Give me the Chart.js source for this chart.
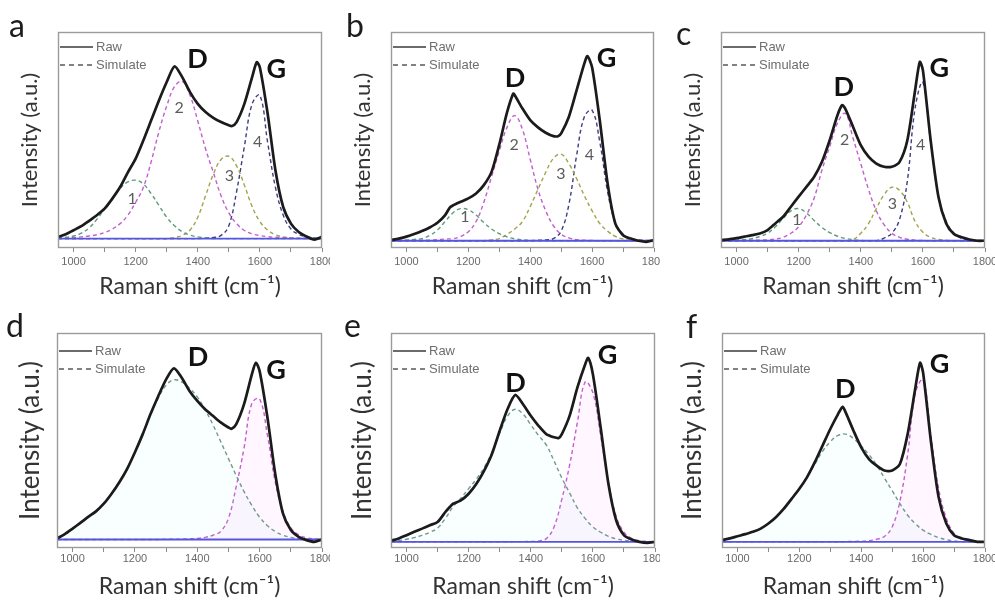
<!DOCTYPE html>
<html>
<head>
<meta charset="utf-8">
<script src="https://cdn.jsdelivr.net/npm/chart.js@4.4.1/dist/chart.umd.min.js"></script>
<style>
  html, body { margin: 0; padding: 0; background: #fff; }
  #fig { position: relative; width: 995px; height: 603px; overflow: hidden; }
  #fig canvas { position: absolute; }
</style>
</head>
<body>
<div id="fig"></div>
<script>
// shared Raman shift grid (cm-1) for the fitted bands
const fitShift = [950,975,1000,1025,1050,1075,1100,1125,1150,1175,1200,1225,1250,1275,1300,1325,1350,1375,1400,1425,1450,1475,1500,1525,1550,1575,1600,1625,1650,1675,1700,1725,1750,1775,1800];
const xTicks = [1000,1100,1200,1300,1400,1500,1600,1700,1800];
const bandNames = ['1', '2', '3', '4'];
const peakNames = ['D', 'G'];

// a
const rawShiftA = [950,975,1000,1025,1050,1075,1100,1125,1150,1175,1200,1225,1250,1275,1300,1325,1350,1375,1400,1425,1450,1475,1500,1510,1525,1550,1575,1590,1600,1625,1650,1675,1700,1725,1750,1775,1800];
const rawA = [0.8,2,3.9,5.8,8.3,10.9,14,18.7,24.1,31,37.4,46,55.3,64.6,73.2,80.5,75.5,68.5,63,59.2,56.5,54.5,53,52.6,54.5,63,75.5,82.5,80,58.4,32,14.8,7,3.1,1,-0.5,0.8];
const fitA1 = [0.3,0.6,1.2,2.5,5,9,14,19,23.5,26.5,27.3,25.5,21,15.5,10,6,3.2,1.6,0.8,0.3,0,0,0,0,0,0,0,0,0,0,0,0,0,0,0];
const fitA2 = [0.2,0.3,0.5,0.8,1.2,1.8,2.8,4.5,7,11,17,24,36,50,62,71,73.5,67,55,42,31,20,12,7,3.8,2.2,1.4,0.9,0.6,0.4,0.3,0.2,0.1,0,0];
const fitA3 = [0,0,0,0,0,0,0,0,0,0,0,0,0,0,0,0.5,1.5,4,10,20,30,37,38.5,34,25,15,8,4,1.8,0.8,0.3,0.1,0,0,0];
const fitA4 = [0,0,0,0,0,0,0,0,0,0,0,0,0,0,0,0,0,0,0,0.2,0.5,1.5,6,22,43,63,67,45,24,11,4.5,2,0.8,0.3,0.1];

// b
const rawShiftB = [950,975,1000,1025,1050,1075,1100,1125,1140,1150,1175,1200,1225,1250,1275,1300,1325,1345,1350,1375,1400,1425,1450,1475,1490,1500,1525,1550,1575,1585,1600,1625,1650,1675,1700,1725,1750,1775,1800];
const rawB = [0.3,1,1.9,3.1,4.5,6.2,8.4,12,15.5,16.5,18.2,19.8,22.1,26,32.2,45,60,68.8,68,61.8,56.4,53,50.5,48.9,48.9,50.2,58,70.4,82.9,86.3,81,56,26.8,8,2.6,1,0,-0.5,0.3];
const fitB1 = [0.1,0.2,0.3,0.6,1,2.5,5,9,13,15,14.5,12,8.5,5.5,3.3,1.8,0.9,0.4,0.2,0,0,0,0,0,0,0,0,0,0,0,0,0,0,0,0];
const fitB2 = [0,0,0.1,0.1,0.2,0.3,0.5,0.8,1,2,4.2,9,18,30,42,53,58.5,52,38,24,14,7,3,1.3,0.5,0.2,0.1,0,0,0,0,0,0,0,0];
const fitB3 = [0,0,0,0,0,0,0,0,0,0,0,0,0,0.4,1,3,5.5,9,16,24,32,38.5,40.5,36,29,21,14,8,4.5,2,0.8,0.3,0.1,0,0];
const fitB4 = [0,0,0,0,0,0,0,0,0,0,0,0,0,0,0,0,0,0,0,0.2,0.4,1,4.5,17,40,58,61,46,23,8.5,3,1,0.4,0.1,0];

// c
const rawShiftC = [950,975,1000,1025,1050,1075,1100,1125,1150,1175,1200,1225,1250,1275,1300,1325,1340,1350,1375,1400,1425,1450,1475,1500,1525,1550,1575,1590,1600,1625,1650,1675,1700,1725,1750,1775,1800];
const rawC = [0.3,0.6,1.2,1.9,2.6,3.4,5,8.1,11.2,15.9,20.6,25.2,29.9,36.9,47,58.7,63.4,61.8,53.3,44.7,39.3,36.1,34.6,34.6,36.9,47,70.4,83.6,79.8,47,20.6,8.1,3.1,1.6,0.6,0,0];
const fitC1 = [0.1,0.2,0.3,0.5,1,2,3.5,6.5,10.5,14,15,13,9.5,6.2,3.8,2.1,1.1,0.5,0.2,0,0,0,0,0,0,0,0,0,0,0,0,0,0,0,0];
const fitC2 = [0,0.1,0.1,0.2,0.2,0.3,0.4,0.8,1.6,3.5,6.5,12,20,33,44,55,59.5,48,36,24,14,7.5,3.5,1.6,0.7,0.3,0.1,0,0,0,0,0,0,0,0];
const fitC3 = [0,0,0,0,0,0,0,0,0,0,0,0,0,0,0,0,0,0.5,3.5,8,15,21.5,25,23.5,18,9,4,1.6,0.6,0.2,0,0,0,0,0];
const fitC4 = [0,0,0,0,0,0,0,0,0,0,0,0,0,0,0,0,0,0,0,0,0,1.2,3.5,10,28,62,74,46,21,9,3.5,1.2,0.4,0.1,0];

// d
const rawShiftD = [950,975,1000,1025,1050,1075,1100,1125,1150,1175,1200,1225,1250,1275,1300,1325,1350,1375,1400,1425,1450,1475,1500,1510,1525,1550,1575,1588,1600,1625,1650,1675,1700,1725,1750,1775,1800];
const rawD = [0.5,2.5,5.1,7.8,10.6,13.2,16.8,21.5,26.9,33.2,41,49.5,58.9,67.4,75.2,80.4,76,69.8,65.1,61.2,58.1,55,52.6,52,54.2,63.6,77.6,83,79.1,57.3,30.8,12.1,4.4,1.2,-0.3,-1.1,0];
const fitD1 = [0.5,2.5,5,7.8,10.5,13.2,16.8,21.5,26.9,33.2,41,49.5,58.5,66.5,72.5,75,74,71,67,61,54,46,38,30,22.5,16,10.5,6.5,3.8,2,1,0.4,0.1,0,0];
const fitD2 = [0,0,0,0,0,0,0,0,0,0,0,0,0,0,0.1,0.1,0.2,0.3,0.5,1,2,3.8,10,25,43,64,66,49,27,13,5.5,2.2,0.8,0.3,0.1];

// e
const rawShiftE = [950,975,1000,1025,1050,1075,1100,1125,1140,1150,1175,1200,1225,1250,1275,1300,1325,1350,1375,1400,1425,1450,1475,1490,1500,1525,1550,1575,1585,1600,1625,1650,1675,1700,1725,1750,1775,1800];
const rawE = [0.5,1.6,3.1,4.7,6.2,7.8,9.3,14,16.5,17.9,19.5,22.6,27.3,33.5,41.3,52.2,62.3,69,64.6,59.2,54.5,50.6,49.1,48.8,50.6,59.2,72.4,83.3,86.4,78.7,53.7,27.3,10.1,3.1,1.1,0,-0.5,0];
const fitE1 = [0.3,0.6,1.2,2,3,4.5,6.5,11,16.5,20.5,25,29.5,35,42,51,59,62.3,60,55,50,45.5,38,30,23,16,11,7,4.5,2.6,1.4,0.7,0.3,0.1,0,0];
const fitE2 = [0,0,0,0,0,0,0,0,0,0,0,0,0,0,0,0,0.1,0.1,0.2,0.4,1.5,7,20,36,56,75,70,50,28,12,4.5,1.6,0.5,0.2,0];

// f
const rawShiftF = [950,975,1000,1025,1050,1075,1100,1125,1150,1175,1200,1225,1250,1275,1300,1325,1340,1350,1375,1400,1425,1450,1475,1500,1525,1550,1575,1590,1600,1625,1650,1675,1700,1725,1750,1775,1800];
const rawF = [0.8,1.6,2.6,3.6,4.7,6.2,8.6,11.7,15.6,20.2,24.9,30.4,37.4,45.2,53,60,63.4,60.7,52.2,44.4,38.9,35.8,33.5,33.5,36.6,50.6,72.4,84.1,79.4,47.5,21,8.6,3.1,1.6,0.8,0,0];
const fitF1 = [0.8,1.6,2.6,3.6,4.7,6.2,8.6,11.7,15.6,20.2,25,30.5,36.5,42.5,47,50,50.6,48.5,45,41,36,30,24,18,12.5,8.5,5.5,3.5,2,1,0.4,0.1,0,0,0];
const fitF2 = [0,0,0,0,0,0,0,0,0,0,0,0,0,0,0,0,0.1,0.2,0.3,0.5,1.2,2.5,7,19,41,70,76,50,25,11,4,1.5,0.5,0.2,0];

const fourColors = ['#5e9c78', '#c25fce', '#a3a34e', '#3d3d85'];
const twoColors = ['#6f9a92', '#c95ad2'];
const twoFills = ['rgba(170,235,235,0.07)', 'rgba(255,170,255,0.11)'];

// canvas boxes and plot-area edges in page pixels, plus label anchors in data units
const panels = [
  { letter: 'a', box: [0, 0, 330, 300], plot: [58, 322, 32, 248], yMin: -4.4, letterAt: [9, 37], yTitleX: 30, yTitleSize: 22,
    raw: [rawShiftA, rawA], fits: [fitA1, fitA2, fitA3, fitA4],
    peaks: [[1399, 84], [1653, 79]], bands: [[1189, 18.7], [1340, 61.2], [1502, 29.3], [1593, 45.2]] },
  { letter: 'b', box: [330, 0, 330, 300], plot: [391, 654, 32, 248], yMin: -3.4, letterAt: [16, 37], yTitleX: 33, yTitleSize: 22,
    raw: [rawShiftB, rawB], fits: [fitB1, fitB2, fitB3, fitB4],
    peaks: [[1351, 75.9], [1647, 85.5]], bands: [[1189, 11.2], [1348, 44.7], [1499, 31.5], [1591, 40]] },
  { letter: 'c', box: [660, 0, 335, 300], plot: [721, 985, 32, 248], yMin: -3.4, letterAt: [16, 45], yTitleX: 33, yTitleSize: 22,
    raw: [rawShiftC, rawC], fits: [fitC1, fitC2, fitC3, fitC4],
    peaks: [[1345, 71.6], [1653, 80.8]], bands: [[1194, 9.7], [1348, 47], [1502, 17.1], [1593, 44.7]] },
  { letter: 'd', box: [0, 300, 330, 303], plot: [57, 322, 333, 548], yMin: -4, letterAt: [6, 37], yTitleX: 31, yTitleSize: 26,
    raw: [rawShiftD, rawD], fits: [fitD1, fitD2],
    peaks: [[1402, 85.7], [1653, 79.4]], bands: [] },
  { letter: 'e', box: [330, 300, 330, 303], plot: [391, 655, 333, 548], yMin: -2.9, letterAt: [14, 37], yTitleX: 33, yTitleSize: 26,
    raw: [rawShiftE, rawE], fits: [fitE1, fitE2],
    peaks: [[1351, 74.3], [1647, 87.7]], bands: [] },
  { letter: 'f', box: [660, 300, 335, 303], plot: [722, 985, 333, 548], yMin: -2.9, letterAt: [26, 38], yTitleX: 33, yTitleSize: 26,
    raw: [rawShiftF, rawF], fits: [fitF1, fitF2],
    peaks: [[1348, 71.7], [1653, 83.6]], bands: [] }
];

const pts = (xs, ys) => xs.map((x, i) => ({ x: x, y: ys[i] }));

// frame, inset legend, D/G and band labels, panel letter
const decor = {
  id: 'decor',
  afterDatasetsDraw(chart, args, o) {
    const { ctx, chartArea: a, scales: { x, y } } = chart;
    ctx.save();
    ctx.setLineDash([]);
    ctx.strokeStyle = '#9b9b9b';
    ctx.lineWidth = 1.4;
    ctx.strokeRect(a.left + 0.5, a.top + 0.5, a.width - 1, a.height - 1);

    const lx = a.left + 2, ly1 = a.top + o.legendDy[0], ly2 = a.top + o.legendDy[1];
    ctx.lineWidth = 1.6;
    ctx.strokeStyle = '#3a3a3a';
    ctx.beginPath(); ctx.moveTo(lx, ly1); ctx.lineTo(lx + 33, ly1); ctx.stroke();
    ctx.setLineDash([5, 4]);
    ctx.strokeStyle = '#585858';
    ctx.beginPath(); ctx.moveTo(lx, ly2); ctx.lineTo(lx + 33, ly2); ctx.stroke();
    ctx.setLineDash([]);
    ctx.font = '13px "Liberation Sans", Arial, sans-serif';
    ctx.fillStyle = '#6e6e6e';
    ctx.textAlign = 'left';
    ctx.textBaseline = 'middle';
    ctx.fillText('Raw', lx + 36, ly1);
    ctx.fillText('Simulate', lx + 36, ly2);

    ctx.textAlign = 'center';
    ctx.font = '16px Lato, sans-serif';
    ctx.fillStyle = '#5c5c5c';
    o.bands.forEach((b, i) => ctx.fillText(bandNames[i], x.getPixelForValue(b[0]), y.getPixelForValue(b[1])));

    ctx.font = 'bold 27px Lato, sans-serif';
    ctx.fillStyle = '#111';
    o.peaks.forEach((p, i) => ctx.fillText(peakNames[i], x.getPixelForValue(p[0]), y.getPixelForValue(p[1])));

    ctx.font = '32px Lato, sans-serif';
    ctx.fillStyle = '#1c1c1c';
    ctx.textAlign = 'left';
    ctx.textBaseline = 'alphabetic';
    ctx.fillText(o.letter, o.letterAt[0], o.letterAt[1]);
    ctx.restore();
  }
};

panels.forEach(p => {
  const [left, top, w, h] = p.box;
  const [pl, pr, pt, pb] = p.plot;
  const yAxisW = pl - left, padRight = left + w - pr, padTop = pt - top, xAxisH = top + h - pb;
  const bottomRow = top > 0;

  const canvas = document.createElement('canvas');
  canvas.width = w;
  canvas.height = h;
  canvas.style.left = left + 'px';
  canvas.style.top = top + 'px';
  document.getElementById('fig').appendChild(canvas);

  const two = p.fits.length === 2;
  const datasets = [
    { data: pts(p.raw[0], p.raw[1]), borderColor: '#1b1b1b', borderWidth: 2.7, tension: 0.25 },
    { data: pts([950, 1800], [0, 0]), borderColor: '#5555e0', borderWidth: 1.8, tension: 0 }
  ];
  p.fits.forEach((f, i) => {
    datasets.push({
      data: pts(fitShift, f),
      borderColor: two ? twoColors[i] : fourColors[i],
      borderWidth: 1.4,
      borderDash: [4, 3],
      tension: 0.4,
      fill: two ? 'origin' : false,
      backgroundColor: two ? twoFills[i] : 'transparent'
    });
  });
  datasets.forEach(d => { d.pointRadius = 0; if (d.fill === undefined) d.fill = false; });

  const yLine = p.yTitleSize * 1.2;
  new Chart(canvas, {
    type: 'line',
    data: { datasets: datasets },
    options: {
      responsive: false,
      animation: false,
      devicePixelRatio: 1,
      layout: { padding: { top: padTop, right: padRight, left: 0, bottom: 0 } },
      plugins: {
        legend: { display: false },
        tooltip: { enabled: false },
        decor: { letter: p.letter, letterAt: p.letterAt, peaks: p.peaks, bands: p.bands, legendDy: bottomRow ? [18, 36] : [15, 33] }
      },
      scales: {
        x: {
          type: 'linear', min: 950, max: 1800,
          afterBuildTicks: s => { s.ticks = xTicks.map(v => ({ value: v })); },
          afterFit: s => { s.height = xAxisH; s.paddingLeft = 0; s.paddingRight = 0; },
          grid: { display: true, drawOnChartArea: false, drawTicks: true, tickLength: 4, color: '#8a8a8a' },
          border: { display: false },
          ticks: {
            callback: v => (v % 200 === 0 ? String(v) : ''),
            font: { family: '"Liberation Sans", Arial, sans-serif', size: 11 },
            color: '#6a6a6a', padding: bottomRow ? 0 : 3, maxRotation: 0, autoSkip: false
          },
          title: {
            display: true, text: 'Raman shift (cm⁻¹)',
            font: { family: 'Lato, sans-serif', size: 23 }, color: '#333',
            padding: { top: 0, bottom: bottomRow ? 3 : 0 }
          }
        },
        y: {
          min: p.yMin, max: p.yMin + 101,
          afterFit: s => { s.width = yAxisW; s.paddingTop = 0; s.paddingBottom = 0; },
          ticks: { display: false },
          grid: { display: false },
          border: { display: false },
          title: {
            display: true, text: 'Intensity (a.u.)',
            font: { family: 'Lato, sans-serif', size: p.yTitleSize }, color: '#333',
            padding: { top: p.yTitleX - yLine / 2, bottom: 0 }
          }
        }
      }
    },
    plugins: [decor]
  });
});
</script>
</body>
</html>
